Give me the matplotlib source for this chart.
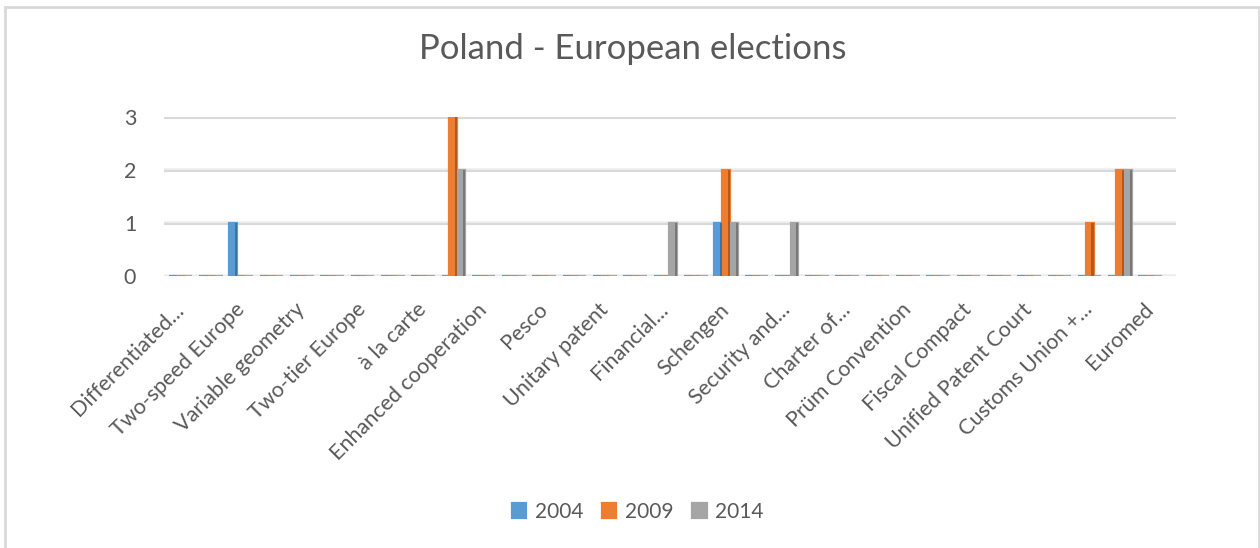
import numpy as np
import matplotlib.pyplot as plt
from matplotlib.patches import Rectangle
from matplotlib.transforms import ScaledTranslation

plt.rcParams['font.family'] = ['Lato', 'DejaVu Sans']

# 33 categories on the axis, only every other one carries a visible label
n_cat = 33
labels = ["Differentiated...", "Two-speed Europe", "Variable geometry",
          "Two-tier Europe", "à la carte", "Enhanced cooperation", "Pesco",
          "Unitary patent", "Financial...", "Schengen", "Security and...",
          "Charter of...", "Prüm Convention", "Fiscal Compact",
          "Unified Patent Court", "Customs Union +...", "Euromed"]
years = ["2004", "2009", "2014"]

# non-zero counts per year, keyed by category number (1-based)
v2004 = {3: 1, 19: 1}
v2009 = {10: 3, 19: 2, 31: 1, 32: 2}
v2014 = {10: 2, 17: 1, 19: 1, 21: 1, 32: 2}

colors = ["#5B9BD5", "#ED7D31", "#A5A5A5"]
sides = ["#41719C", "#AE5A21", "#787878"]
txt = "#595959"

x = np.arange(1, n_cat + 1)
series = []
for d in (v2004, v2009, v2014):
    vals = np.zeros(n_cat)
    for k, v in d.items():
        vals[k - 1] = v
    series.append(vals)

fig = plt.figure(figsize=(12.6, 5.48), dpi=100)
ax = fig.add_axes([164 / 1260, (548 - 276) / 548, 1012 / 1260, 159 / 548])

# light outer frame of the chart
fig.patches.append(Rectangle((5 / 1260, -0.01), 1254 / 1260, (548 - 7) / 548 + 0.01,
                             transform=fig.transFigure, fill=False,
                             edgecolor="#D9D9D9", linewidth=2))

w = 0.26
side = 0.07
for i, vals in enumerate(series):
    pos = x + (i - 1) * w
    ax.bar(pos, vals, w, color=colors[i], edgecolor=colors[i], linewidth=1.6,
           label=years[i], zorder=3)
    # darker right face for the bevelled look
    ax.bar(pos + w / 2 - side / 2, vals, side, color=sides[i], linewidth=0, zorder=4)

ax.set_xlim(0.45, 33.85)
ax.set_ylim(0, 3)
ax.set_yticks([0, 1, 2, 3])
for y in [0, 1, 2, 3]:
    ax.axhline(y, color="#D9D9D9", linewidth=2.2, zorder=1)
    ax.axhline(y + 0.012, color="#EFEFEF", linewidth=1.2, zorder=1)

ax.set_xticks(x[::2])
ax.set_xticklabels(labels, rotation=45, ha="right", va="center",
                   rotation_mode="anchor", fontsize=15.5, color=txt)
offset = ScaledTranslation(7 / 100, 0, fig.dpi_scale_trans)
for lab in ax.get_xticklabels():
    lab.set_transform(lab.get_transform() + offset)

ax.tick_params(axis="x", length=0, pad=22)
ax.tick_params(axis="y", length=0, pad=20, labelsize=15.5, labelcolor=txt)
for s in ax.spines.values():
    s.set_visible(False)

fig.text(0.502, 1 - 49 / 548, "Poland - European elections", ha="center",
         va="center", fontsize=25, color=txt)

handles, lbls = ax.get_legend_handles_labels()
fig.legend(handles[:3], lbls[:3], loc="center", bbox_to_anchor=(0.506, 1 - 512 / 548),
           ncol=3, frameon=False, fontsize=15, labelcolor=txt,
           handlelength=0.7, handleheight=0.7, handletextpad=0.4, columnspacing=0.9)

fig.savefig("out.png", dpi=100)
